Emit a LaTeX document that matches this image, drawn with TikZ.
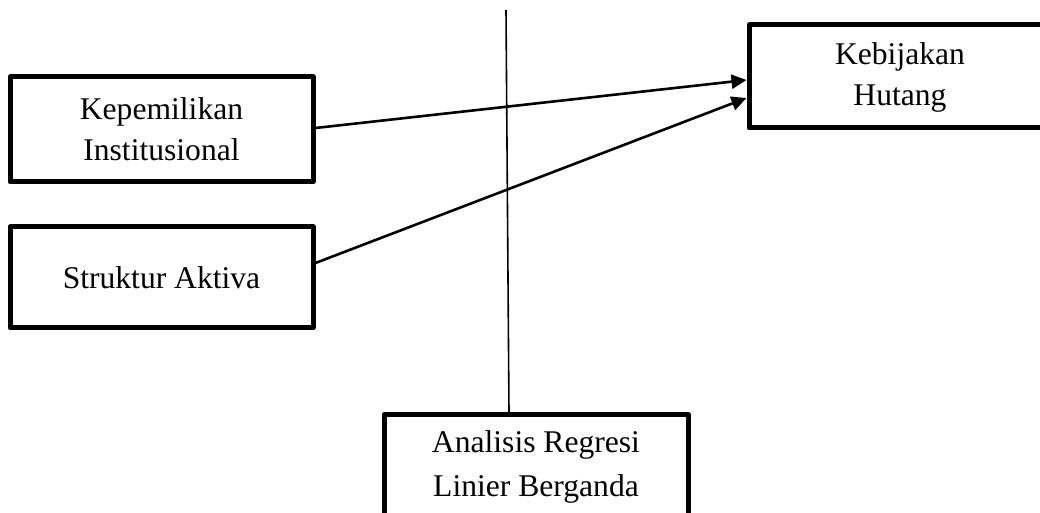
\documentclass[tikz,border=0pt]{standalone}
\usepackage{fontspec}
\setmainfont{Liberation Serif}
\usetikzlibrary{arrows.meta}
\begin{document}
\begin{tikzpicture}[x=0.5pt,y=-0.5pt,
  box/.style={draw=black,line width=2.5pt,line join=round,fill=white,align=center,
    font=\fontsize{15.8pt}{20.5pt}\selectfont,inner sep=0pt},
  txt/.style={align=center,font=\fontsize{15.8pt}{20.5pt}\selectfont,inner sep=0pt},
  arr/.style={line width=1.3pt,-{Triangle[length=7.5pt,width=7pt]}},
  thin/.style={line width=0.8pt}]
\useasboundingbox (0,0) rectangle (1040,513);
\clip (0,0) rectangle (1040,513);
\node[box,minimum width=151.5pt,minimum height=52.5pt] (kep) at (161.5,129.5) {Kepemilikan\\Institusional};
\node[box,minimum width=151.5pt,minimum height=50.5pt] (str) at (161.5,277.5) {Struktur Aktiva};
\node[box,minimum width=180pt,minimum height=51.5pt] (keb) at (929,76.5) {};
\node[txt] (kebt) at (900,77) {Kebijakan\\Hutang};
\node[box,minimum width=152pt,minimum height=52.5pt,font=\fontsize{15.8pt}{22pt}\selectfont] (ana) at (536,467) {Analisis Regresi\\Linier Berganda};
\coordinate (top) at (506,10);
\draw[thin] (top) -- ([xshift=-13.5pt]ana.north);
\draw[arr] ([yshift=0.75pt]kep.east) -- ([yshift=-1.75pt]keb.west);
\draw[arr] ([yshift=7.25pt]str.east) -- ([yshift=-10.75pt]keb.west);
\end{tikzpicture}
\end{document}
